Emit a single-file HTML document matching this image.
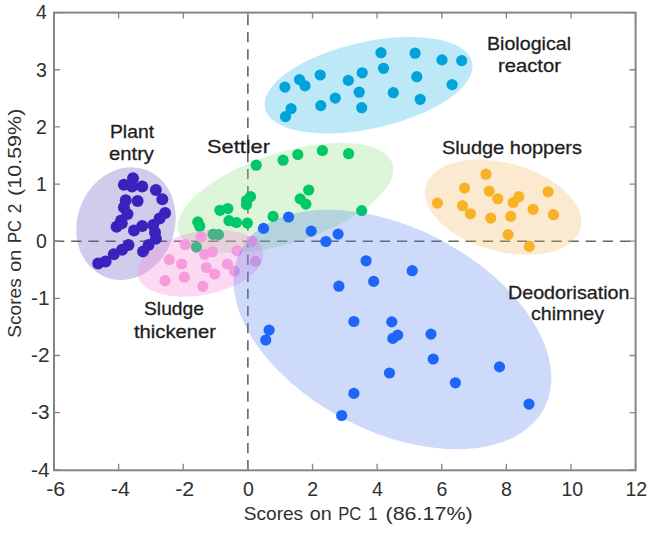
<!DOCTYPE html><html><head><meta charset="utf-8"><style>html,body{margin:0;padding:0;background:#fff;}svg{display:block;}text{font-family:"Liberation Sans",sans-serif;}</style></head><body>
<svg width="654" height="546" viewBox="0 0 654 546">
<rect width="654" height="546" fill="#fff"/>
<line x1="247.87" y1="12.6" x2="247.87" y2="469.8" stroke="#646464" stroke-width="1.6" stroke-dasharray="10.3 6.82" stroke-dashoffset="14.82"/>
<line x1="54.0" y1="241.20" x2="635.6" y2="241.20" stroke="#646464" stroke-width="1.6" stroke-dasharray="10.3 6.85"/>
<ellipse cx="126.00" cy="223.60" rx="57.30" ry="48.60" transform="rotate(-69.80 126.00 223.60)" fill="#6258c0" fill-opacity="0.3"/>
<g fill="#3b22bd"><circle cx="133" cy="178.2" r="6.0"/><circle cx="123.9" cy="184.7" r="6.0"/><circle cx="132.1" cy="186.5" r="6.0"/><circle cx="142.2" cy="186.5" r="6.0"/><circle cx="155.9" cy="190.1" r="6.0"/><circle cx="162.3" cy="199.3" r="6.0"/><circle cx="137.6" cy="201.1" r="6.0"/><circle cx="125.7" cy="200.2" r="6.0"/><circle cx="123.9" cy="207.5" r="6.0"/><circle cx="127.5" cy="214" r="6.0"/><circle cx="121.1" cy="220.4" r="6.0"/><circle cx="116.6" cy="226.8" r="6.0"/><circle cx="121.8" cy="223.2" r="6.0"/><circle cx="134" cy="230.4" r="6.0"/><circle cx="142.2" cy="225.9" r="6.0"/><circle cx="165.1" cy="213" r="6.0"/><circle cx="159.6" cy="218.5" r="6.0"/><circle cx="153.2" cy="224.9" r="6.0"/><circle cx="155" cy="232.3" r="6.0"/><circle cx="155.9" cy="238.7" r="6.0"/><circle cx="148.6" cy="245.1" r="6.0"/><circle cx="143.1" cy="251.5" r="6.0"/><circle cx="98.2" cy="263.4" r="6.0"/><circle cx="105.6" cy="261.6" r="6.0"/><circle cx="113.8" cy="254.2" r="6.0"/><circle cx="122.1" cy="249.7" r="6.0"/><circle cx="128.5" cy="245.1" r="6.0"/></g>
<ellipse cx="368.60" cy="85.25" rx="106.10" ry="43.40" transform="rotate(-12.50 368.60 85.25)" fill="#26b2e8" fill-opacity="0.3"/>
<g fill="#00a3da"><circle cx="284.9" cy="87.1" r="5.6"/><circle cx="299.5" cy="79.6" r="5.6"/><circle cx="305" cy="85.8" r="5.6"/><circle cx="320.2" cy="75" r="5.6"/><circle cx="291.1" cy="108.7" r="5.6"/><circle cx="285.5" cy="116.6" r="5.6"/><circle cx="320.8" cy="105.6" r="5.6"/><circle cx="335.3" cy="98.1" r="5.6"/><circle cx="348.3" cy="80.4" r="5.6"/><circle cx="362.2" cy="72.8" r="5.6"/><circle cx="359.2" cy="92.2" r="5.6"/><circle cx="361.7" cy="107.7" r="5.6"/><circle cx="381" cy="52.7" r="5.6"/><circle cx="383.5" cy="68.3" r="5.6"/><circle cx="393.3" cy="92.7" r="5.6"/><circle cx="415.1" cy="53.2" r="5.6"/><circle cx="416.8" cy="76.7" r="5.6"/><circle cx="420.2" cy="99.3" r="5.6"/><circle cx="442" cy="59.9" r="5.6"/><circle cx="461.7" cy="60.6" r="5.6"/><circle cx="452.1" cy="84.6" r="5.6"/></g>
<ellipse cx="285.50" cy="197.90" rx="112.30" ry="45.20" transform="rotate(-17.80 285.50 197.90)" fill="#8ede7d" fill-opacity="0.3"/>
<g fill="#00c866"><circle cx="256.2" cy="165.2" r="5.6"/><circle cx="283.1" cy="160.2" r="5.6"/><circle cx="297.8" cy="154.5" r="5.6"/><circle cx="322.4" cy="150.5" r="5.6"/><circle cx="348.6" cy="153.7" r="5.6"/><circle cx="246.6" cy="200.5" r="5.6"/><circle cx="250.5" cy="196.5" r="5.6"/><circle cx="246.5" cy="204.5" r="5.6"/><circle cx="219.9" cy="210.3" r="5.6"/><circle cx="227.8" cy="208.5" r="5.6"/><circle cx="229" cy="220.7" r="5.6"/><circle cx="236.4" cy="222.5" r="5.6"/><circle cx="247.4" cy="223.1" r="5.6"/><circle cx="197.8" cy="221.9" r="5.6"/><circle cx="199.7" cy="226.2" r="5.6"/><circle cx="273.1" cy="216.4" r="5.6"/><circle cx="308.7" cy="190" r="5.6"/><circle cx="300.2" cy="198.9" r="5.6"/><circle cx="305.9" cy="204.1" r="5.6"/><circle cx="361.7" cy="210.6" r="5.6"/><circle cx="213.1" cy="234.3" r="5.6"/><circle cx="218.6" cy="234.6" r="5.6"/><circle cx="196.4" cy="247.1" r="5.6"/></g>
<ellipse cx="200.50" cy="263.30" rx="63.80" ry="31.80" transform="rotate(-10.80 200.50 263.30)" fill="#f482d6" fill-opacity="0.3"/>
<g fill="#f49cde"><circle cx="201" cy="236.8" r="5.6"/><circle cx="185.2" cy="244.7" r="5.6"/><circle cx="169.3" cy="259.6" r="5.6"/><circle cx="181.7" cy="264" r="5.6"/><circle cx="165" cy="280.7" r="5.6"/><circle cx="184.3" cy="277.2" r="5.6"/><circle cx="204.5" cy="254.3" r="5.6"/><circle cx="212.4" cy="251.7" r="5.6"/><circle cx="206.3" cy="267.5" r="5.6"/><circle cx="214.7" cy="274" r="5.6"/><circle cx="202.8" cy="286.3" r="5.6"/><circle cx="227.4" cy="264" r="5.6"/><circle cx="234.4" cy="271" r="5.6"/><circle cx="237" cy="250.8" r="5.6"/><circle cx="252" cy="241.2" r="5.6"/><circle cx="255.5" cy="261.4" r="5.6"/></g>
<ellipse cx="392.40" cy="329.50" rx="171.05" ry="101.70" transform="rotate(27.40 392.40 329.50)" fill="#5884ee" fill-opacity="0.3"/>
<g fill="#1e66f8"><circle cx="288.6" cy="217" r="5.6"/><circle cx="263.5" cy="228.4" r="5.6"/><circle cx="311.2" cy="231.1" r="5.6"/><circle cx="338.1" cy="234.1" r="5.6"/><circle cx="325.9" cy="241.5" r="5.6"/><circle cx="366.1" cy="260.8" r="5.6"/><circle cx="412.2" cy="270.7" r="5.6"/><circle cx="373.7" cy="281.4" r="5.6"/><circle cx="338.9" cy="286.2" r="5.6"/><circle cx="353.9" cy="321.5" r="5.6"/><circle cx="391.8" cy="321.9" r="5.6"/><circle cx="397.7" cy="335.1" r="5.6"/><circle cx="392.8" cy="338.4" r="5.6"/><circle cx="431" cy="334.1" r="5.6"/><circle cx="433.2" cy="359" r="5.6"/><circle cx="389.5" cy="373" r="5.6"/><circle cx="455.4" cy="382.8" r="5.6"/><circle cx="499.5" cy="366.9" r="5.6"/><circle cx="529" cy="404.1" r="5.6"/><circle cx="269.1" cy="330.1" r="5.6"/><circle cx="265.8" cy="340" r="5.6"/><circle cx="353.9" cy="393.4" r="5.6"/><circle cx="341.7" cy="415.5" r="5.6"/></g>
<ellipse cx="503.10" cy="207.20" rx="80.30" ry="44.20" transform="rotate(15.40 503.10 207.20)" fill="#f5b962" fill-opacity="0.3"/>
<g fill="#f8b226"><circle cx="486" cy="174.2" r="5.6"/><circle cx="464.6" cy="188.1" r="5.6"/><circle cx="489.2" cy="191.1" r="5.6"/><circle cx="497.8" cy="198.8" r="5.6"/><circle cx="518.8" cy="196.7" r="5.6"/><circle cx="513.2" cy="202.5" r="5.6"/><circle cx="548.1" cy="191.8" r="5.6"/><circle cx="437.4" cy="203.1" r="5.6"/><circle cx="462.5" cy="205.7" r="5.6"/><circle cx="470.4" cy="213.8" r="5.6"/><circle cx="490.7" cy="218.1" r="5.6"/><circle cx="510.7" cy="216.4" r="5.6"/><circle cx="533.1" cy="209.3" r="5.6"/><circle cx="553.5" cy="214.7" r="5.6"/><circle cx="508.1" cy="234.6" r="5.6"/><circle cx="529.3" cy="246.4" r="5.6"/></g>
<rect x="54.0" y="12.6" width="581.6" height="457.7" fill="none" stroke="#858585" stroke-width="2"/>
<path d="M54.00 469.8v-6M54.00 12.6v6M118.62 469.8v-6M118.62 12.6v6M183.24 469.8v-6M183.24 12.6v6M247.87 469.8v-6M247.87 12.6v6M312.49 469.8v-6M312.49 12.6v6M377.11 469.8v-6M377.11 12.6v6M441.73 469.8v-6M441.73 12.6v6M506.36 469.8v-6M506.36 12.6v6M570.98 469.8v-6M570.98 12.6v6M635.60 469.8v-6M635.60 12.6v6M54.0 469.80h6M635.6 469.80h-6M54.0 412.65h6M635.6 412.65h-6M54.0 355.50h6M635.6 355.50h-6M54.0 298.35h6M635.6 298.35h-6M54.0 241.20h6M635.6 241.20h-6M54.0 184.05h6M635.6 184.05h-6M54.0 126.90h6M635.6 126.90h-6M54.0 69.75h6M635.6 69.75h-6M54.0 12.60h6M635.6 12.60h-6" stroke="#858585" stroke-width="1.3" fill="none"/>
<text x="55.70" y="496" font-size="19.5" fill="#303030" text-anchor="middle" textLength="19" lengthAdjust="spacingAndGlyphs">-6</text>
<text x="120.35" y="496" font-size="19.5" fill="#303030" text-anchor="middle" textLength="19" lengthAdjust="spacingAndGlyphs">-4</text>
<text x="184.70" y="496" font-size="19.5" fill="#303030" text-anchor="middle" textLength="19" lengthAdjust="spacingAndGlyphs">-2</text>
<text x="248.40" y="496" font-size="19.5" fill="#303030" text-anchor="middle">0</text>
<text x="312.70" y="496" font-size="19.5" fill="#303030" text-anchor="middle">2</text>
<text x="377.40" y="496" font-size="19.5" fill="#303030" text-anchor="middle">4</text>
<text x="441.90" y="496" font-size="19.5" fill="#303030" text-anchor="middle">6</text>
<text x="506.50" y="496" font-size="19.5" fill="#303030" text-anchor="middle">8</text>
<text x="572.30" y="496" font-size="19.5" fill="#303030" text-anchor="middle">10</text>
<text x="636.30" y="496" font-size="19.5" fill="#303030" text-anchor="middle">12</text>
<text x="49.6" y="476.60" font-size="19.5" fill="#303030" text-anchor="end" textLength="18.5" lengthAdjust="spacingAndGlyphs">-4</text>
<text x="49.6" y="419.45" font-size="19.5" fill="#303030" text-anchor="end" textLength="18.5" lengthAdjust="spacingAndGlyphs">-3</text>
<text x="49.6" y="362.30" font-size="19.5" fill="#303030" text-anchor="end" textLength="18.5" lengthAdjust="spacingAndGlyphs">-2</text>
<text x="49.6" y="305.15" font-size="19.5" fill="#303030" text-anchor="end" textLength="18.5" lengthAdjust="spacingAndGlyphs">-1</text>
<text x="46.8" y="248.00" font-size="19.5" fill="#303030" text-anchor="end">0</text>
<text x="46.8" y="190.85" font-size="19.5" fill="#303030" text-anchor="end">1</text>
<text x="46.8" y="133.70" font-size="19.5" fill="#303030" text-anchor="end">2</text>
<text x="46.8" y="76.55" font-size="19.5" fill="#303030" text-anchor="end">3</text>
<text x="46.8" y="19.40" font-size="19.5" fill="#303030" text-anchor="end">4</text>
<text x="243.7" y="519.8" font-size="19" fill="#303030" textLength="59.5" lengthAdjust="spacingAndGlyphs">Scores</text>
<text x="309.7" y="519.8" font-size="19" fill="#303030" textLength="22.0" lengthAdjust="spacingAndGlyphs">on</text>
<text x="338.3" y="519.8" font-size="19" fill="#303030" textLength="23.0" lengthAdjust="spacingAndGlyphs">PC</text>
<text x="368.1" y="519.8" font-size="19" fill="#303030" textLength="9.5" lengthAdjust="spacingAndGlyphs">1</text>
<text x="385.5" y="519.8" font-size="19" fill="#303030" textLength="87.2" lengthAdjust="spacingAndGlyphs">(86.17%)</text>
<g transform="rotate(-90)">
<text x="-337.70" y="20.5" font-size="19" fill="#303030" textLength="59.5" lengthAdjust="spacingAndGlyphs">Scores</text>
<text x="-271.70" y="20.5" font-size="19" fill="#303030" textLength="22.0" lengthAdjust="spacingAndGlyphs">on</text>
<text x="-243.10" y="20.5" font-size="19" fill="#303030" textLength="23.0" lengthAdjust="spacingAndGlyphs">PC</text>
<text x="-213.30" y="20.5" font-size="19" fill="#303030" textLength="9.5" lengthAdjust="spacingAndGlyphs">2</text>
<text x="-195.90" y="20.5" font-size="19" fill="#303030" textLength="87.2" lengthAdjust="spacingAndGlyphs">(10.59%)</text>
</g>
<text x="487" y="50" font-size="19" fill="#1e1e1e" stroke="#1e1e1e" stroke-width="0.3" textLength="84" lengthAdjust="spacingAndGlyphs">Biological</text>
<text x="498" y="71.8" font-size="19" fill="#1e1e1e" stroke="#1e1e1e" stroke-width="0.3" textLength="63" lengthAdjust="spacingAndGlyphs">reactor</text>
<text x="110" y="138.3" font-size="19" fill="#1e1e1e" stroke="#1e1e1e" stroke-width="0.3" textLength="44" lengthAdjust="spacingAndGlyphs">Plant</text>
<text x="109" y="160.3" font-size="19" fill="#1e1e1e" stroke="#1e1e1e" stroke-width="0.3" textLength="45" lengthAdjust="spacingAndGlyphs">entry</text>
<text x="207" y="153.4" font-size="19" fill="#1e1e1e" stroke="#1e1e1e" stroke-width="0.3" textLength="63" lengthAdjust="spacingAndGlyphs">Settler</text>
<text x="442" y="154" font-size="19" fill="#1e1e1e" stroke="#1e1e1e" stroke-width="0.3" textLength="140" lengthAdjust="spacingAndGlyphs">Sludge hoppers</text>
<text x="508" y="298.6" font-size="19" fill="#1e1e1e" stroke="#1e1e1e" stroke-width="0.3" textLength="121.5" lengthAdjust="spacingAndGlyphs">Deodorisation</text>
<text x="531" y="319.6" font-size="19" fill="#1e1e1e" stroke="#1e1e1e" stroke-width="0.3" textLength="73" lengthAdjust="spacingAndGlyphs">chimney</text>
<text x="144" y="315.3" font-size="19" fill="#1e1e1e" stroke="#1e1e1e" stroke-width="0.3" textLength="60" lengthAdjust="spacingAndGlyphs">Sludge</text>
<text x="134" y="337.5" font-size="19" fill="#1e1e1e" stroke="#1e1e1e" stroke-width="0.3" textLength="82" lengthAdjust="spacingAndGlyphs">thickener</text>
</svg></body></html>
